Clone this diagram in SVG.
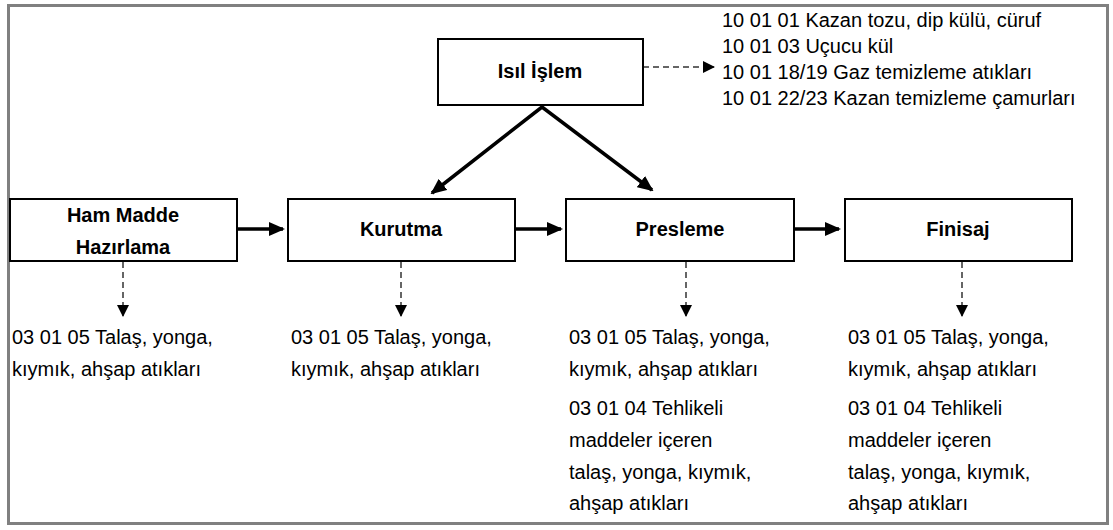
<svg xmlns="http://www.w3.org/2000/svg" width="1113" height="530" viewBox="0 0 1113 530">
<style>
.box{fill:#fff;stroke:#000;stroke-width:2}
.lbl{font-family:"Liberation Sans",Arial,sans-serif;font-size:20px;font-weight:bold;fill:#000;text-anchor:middle}
.txt{font-family:"Liberation Sans",Arial,sans-serif;font-size:20px;fill:#000}
.solid{fill:none;stroke:#000;stroke-width:3.5}
.dash{fill:none;stroke:#333;stroke-width:1.5;stroke-dasharray:6,4}
</style>
<defs>
<marker id="ah" markerUnits="userSpaceOnUse" markerWidth="16" markerHeight="14" refX="14" refY="7" orient="auto-start-reverse">
<path d="M0,0 L16,7 L0,14 Z" fill="#000"/>
</marker>
<marker id="dh" markerUnits="userSpaceOnUse" markerWidth="12" markerHeight="12" refX="11" refY="6" orient="auto">
<path d="M0,0 L12,6 L0,12 Z" fill="#000"/>
</marker>
</defs>
<rect x="0" y="0" width="1113" height="530" fill="#fff"/>
<rect x="8.5" y="5.5" width="1099" height="518" fill="none" stroke="#808080" stroke-width="3"/>

<g id="connectors">
<path class="solid" d="M432,193 L542,107 L652,190" marker-start="url(#ah)" marker-end="url(#ah)"/>
<line class="solid" x1="237" y1="229" x2="283" y2="229" marker-end="url(#ah)"/>
<line class="solid" x1="515" y1="229" x2="561" y2="229" marker-end="url(#ah)"/>
<line class="solid" x1="794" y1="229" x2="839" y2="229" marker-end="url(#ah)"/>
<line class="dash" x1="643" y1="67" x2="714" y2="67" marker-end="url(#dh)"/>
<line class="dash" x1="123" y1="262" x2="123" y2="316" marker-end="url(#dh)"/>
<line class="dash" x1="401" y1="262" x2="401" y2="316" marker-end="url(#dh)"/>
<line class="dash" x1="686" y1="262" x2="686" y2="316" marker-end="url(#dh)"/>
<line class="dash" x1="962" y1="262" x2="962" y2="316" marker-end="url(#dh)"/>
</g>

<g id="isil">
<rect class="box" x="438" y="39" width="205" height="66"/>
<text class="lbl" x="540" y="78">Isıl İşlem</text>
</g>
<g id="isil-out">
<text class="txt" x="722" y="27">10 01 01 Kazan tozu, dip külü, cüruf</text>
<text class="txt" x="722" y="53">10 01 03 Uçucu kül</text>
<text class="txt" x="722" y="79">10 01 18/19 Gaz temizleme atıkları</text>
<text class="txt" x="722" y="105">10 01 22/23 Kazan temizleme çamurları</text>
</g>

<g id="ham">
<rect class="box" x="10" y="199" width="227" height="62"/>
<text class="lbl" x="123" y="222">Ham Madde</text>
<text class="lbl" x="123" y="254">Hazırlama</text>
</g>
<g id="ham-out">
<text class="txt" x="12" y="344">03 01 05 Talaş, yonga,</text>
<text class="txt" x="12" y="376">kıymık, ahşap atıkları</text>
</g>

<g id="kurutma">
<rect class="box" x="288" y="199" width="227" height="62"/>
<text class="lbl" x="401" y="236">Kurutma</text>
</g>
<g id="kurutma-out">
<text class="txt" x="291" y="344">03 01 05 Talaş, yonga,</text>
<text class="txt" x="291" y="376">kıymık, ahşap atıkları</text>
</g>

<g id="presleme">
<rect class="box" x="566" y="199" width="228" height="62"/>
<text class="lbl" x="680" y="236">Presleme</text>
</g>
<g id="presleme-out">
<text class="txt" x="569" y="344">03 01 05 Talaş, yonga,</text>
<text class="txt" x="569" y="376">kıymık, ahşap atıkları</text>
<text class="txt" x="569" y="415">03 01 04 Tehlikeli</text>
<text class="txt" x="569" y="447">maddeler içeren</text>
<text class="txt" x="569" y="479">talaş, yonga, kıymık,</text>
<text class="txt" x="569" y="510">ahşap atıkları</text>
</g>

<g id="finisaj">
<rect class="box" x="845" y="199" width="227" height="62"/>
<text class="lbl" x="958" y="236">Finisaj</text>
</g>
<g id="finisaj-out">
<text class="txt" x="848" y="344">03 01 05 Talaş, yonga,</text>
<text class="txt" x="848" y="376">kıymık, ahşap atıkları</text>
<text class="txt" x="848" y="415">03 01 04 Tehlikeli</text>
<text class="txt" x="848" y="447">maddeler içeren</text>
<text class="txt" x="848" y="479">talaş, yonga, kıymık,</text>
<text class="txt" x="848" y="510">ahşap atıkları</text>
</g>
</svg>
